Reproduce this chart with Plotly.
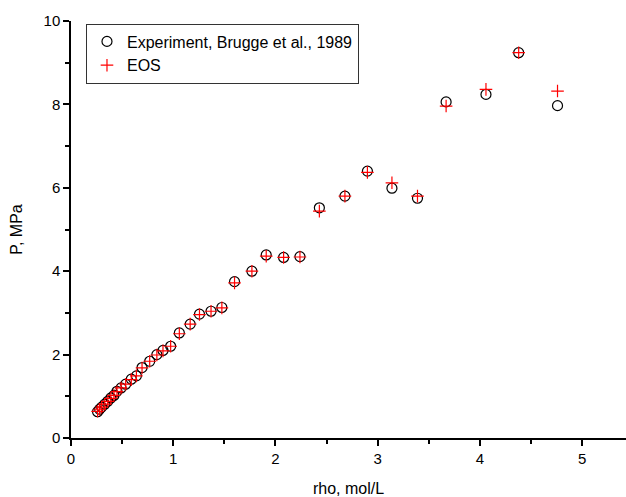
import plotly.graph_objects as go

rho = [0.26, 0.28, 0.30, 0.33, 0.36, 0.39, 0.42, 0.45, 0.49, 0.535, 0.59, 0.64,
       0.695, 0.77, 0.84, 0.90, 0.975, 1.06, 1.166, 1.257, 1.37, 1.476, 1.60,
       1.77, 1.91, 2.08, 2.24, 2.43, 2.68, 2.90, 3.14, 3.39, 3.67, 4.06, 4.38, 4.76]
p_exp = [0.63, 0.69, 0.74, 0.81, 0.88, 0.96, 1.02, 1.12, 1.20, 1.29, 1.41, 1.49,
         1.69, 1.84, 2.00, 2.10, 2.20, 2.52, 2.73, 2.97, 3.04, 3.13, 3.75,
         4.00, 4.39, 4.33, 4.35, 5.52, 5.80, 6.40, 5.99, 5.75, 8.06, 8.24, 9.24, 7.97]
p_eos = [0.64, 0.69, 0.74, 0.81, 0.88, 0.95, 1.02, 1.11, 1.20, 1.29, 1.40, 1.49,
         1.68, 1.84, 1.99, 2.09, 2.20, 2.50, 2.73, 2.96, 3.04, 3.12, 3.72,
         4.00, 4.36, 4.33, 4.34, 5.44, 5.80, 6.37, 6.12, 5.80, 7.96, 8.36, 9.24, 8.32]

FONT = "Liberation Sans, Arial, sans-serif"

fig = go.Figure()
fig.add_trace(go.Scatter(
    x=rho, y=p_exp, mode="markers", name="Experiment, Brugge et al., 1989",
    marker=dict(symbol="circle-open", size=10, color="black", line=dict(width=1.2, color="black"))))
fig.add_trace(go.Scatter(
    x=rho, y=p_eos, mode="markers", name="EOS",
    marker=dict(symbol="cross-thin-open", size=9, color="red", line=dict(width=1.2, color="red"))))

axis_common = dict(
    showline=True, linecolor="black", linewidth=1.5, showgrid=False, zeroline=False,
    ticks="outside", ticklen=6, tickwidth=1.5, tickcolor="black",
    tickfont=dict(family=FONT, size=15, color="black"),
    mirror=False,
)
fig.update_xaxes(range=[0, 5.43], dtick=1, tick0=0,
                 minor=dict(dtick=0.5, ticks="outside", ticklen=4, tickwidth=1.5, tickcolor="black"),
                 title=dict(text="rho, mol/L", font=dict(family=FONT, size=16, color="black"), standoff=20),
                 **axis_common)
fig.update_yaxes(range=[0, 10], dtick=2, tick0=0,
                 minor=dict(dtick=1, ticks="outside", ticklen=4, tickwidth=1.5, tickcolor="black"),
                 title=dict(text="P, MPa", font=dict(family=FONT, size=16, color="black"), standoff=17),
                 **axis_common)
fig.update_layout(
    width=626, height=497,
    margin=dict(l=71, r=0, t=21, b=59),
    plot_bgcolor="white", paper_bgcolor="white",
    font=dict(family=FONT, color="black"),
    legend=dict(x=0.027, y=0.994, xanchor="left", yanchor="top",
                bgcolor="white", bordercolor="#333333", borderwidth=1,
                font=dict(family=FONT, size=16, color="black"),
                tracegroupgap=0, itemwidth=30),
    showlegend=True,
)
fig.write_html("out.html")
